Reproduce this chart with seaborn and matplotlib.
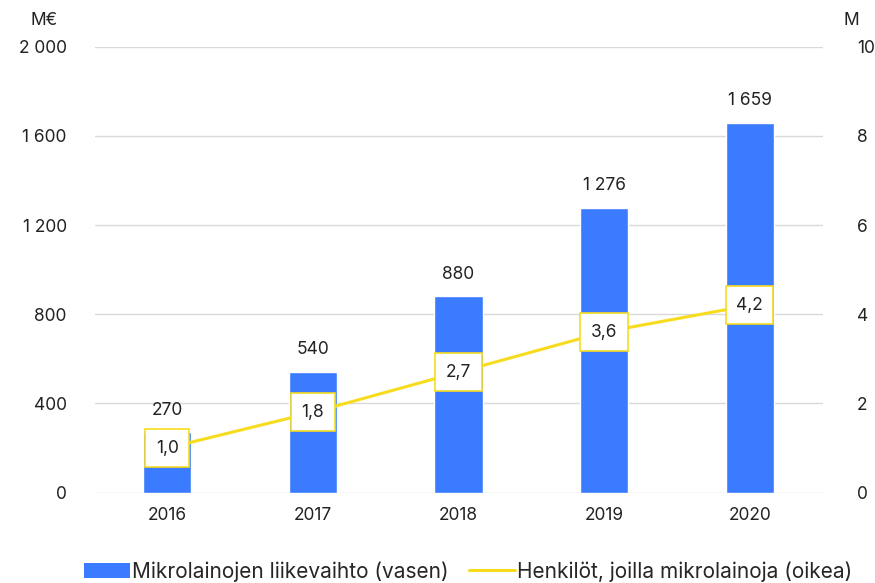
import numpy as np
import matplotlib
matplotlib.use("Agg")
import matplotlib.pyplot as plt
import seaborn as sns
from matplotlib.patches import Patch
from matplotlib.lines import Line2D

years = ["2016", "2017", "2018", "2019", "2020"]
turnover = [270, 540, 880, 1276, 1659]      # M€, left axis
persons = [1.0, 1.8, 2.7, 3.6, 4.2]          # M, right axis
left_ticks = [0, 400, 800, 1200, 1600, 2000]
right_ticks = [0, 2, 4, 6, 8, 10]

BAR_BLUE = "#3A7BFF"
LINE_YELLOW = "#F7DC1E"
GRID = "#D9D9D9"
TEXT = "#222222"
FS = 12.5


def fi(v):
    return f"{v:,}".replace(",", " ")


sns.set_theme(style="white")
plt.rcParams["font.family"] = ["Inter", "DejaVu Sans"]
plt.rcParams["font.size"] = FS

fig, ax = plt.subplots(figsize=(8.75, 5.83), dpi=100)
fig.subplots_adjust(left=0.108, right=0.94, top=0.92, bottom=0.155)

sns.barplot(x=years, y=turnover, color=BAR_BLUE, width=0.33, saturation=1, ax=ax, zorder=2)
ax.bar_label(ax.containers[0], labels=[fi(v) for v in turnover], padding=10,
             fontsize=FS, color=TEXT)

ax.set_ylim(0, 2000)
ax.set_xlim(-0.5, 4.5)
ax.set_yticks(left_ticks)
ax.set_yticklabels([fi(v) for v in left_ticks])
ax.yaxis.grid(True, color=GRID, linewidth=1)
ax.set_axisbelow(True)
ax.set_xlabel("")
ax.set_ylabel("")
for s in ax.spines.values():
    s.set_visible(False)
ax.tick_params(axis="both", length=0, labelsize=FS, colors=TEXT)
ax.tick_params(axis="y", pad=20)
ax.tick_params(axis="x", pad=10)

ax2 = ax.twinx()
xpos = np.arange(len(years))
sns.lineplot(x=xpos, y=persons, color=LINE_YELLOW, linewidth=2.2, ax=ax2, zorder=3)
ax2.set_ylim(0, 10)
ax2.set_yticks(right_ticks)
ax2.set_yticklabels([str(v) for v in right_ticks])
ax2.set_ylabel("")
for s in ax2.spines.values():
    s.set_visible(False)
ax2.grid(False)
ax2.yaxis.set_tick_params(which="both", length=0, labelsize=FS, labelcolor=TEXT, pad=25)
for x, v in zip(xpos, persons):
    ax2.text(x, v, f"{v:.1f}".replace(".", ","), ha="center", va="center",
             fontsize=FS, color=TEXT, zorder=5,
             bbox=dict(boxstyle="square,pad=0.6", facecolor="white",
                       edgecolor=LINE_YELLOW, linewidth=1.2))

fig.text(0.035, 0.965, "M€", fontsize=FS, color=TEXT, ha="left", va="center")
fig.text(0.982, 0.965, "M", fontsize=FS, color=TEXT, ha="right", va="center")

handles = [Patch(facecolor=BAR_BLUE, edgecolor="none"),
           Line2D([0], [0], color=LINE_YELLOW, linewidth=2.2)]
fig.legend(handles, ["Mikrolainojen liikevaihto (vasen)",
                     "Henkilöt, joilla mikrolainoja (oikea)"],
           loc="lower center", bbox_to_anchor=(0.535, -0.03), ncol=2, frameon=False,
           fontsize=15, handlelength=2.2, handletextpad=0.1, columnspacing=1.0)

fig.savefig("out.png", dpi=100)
